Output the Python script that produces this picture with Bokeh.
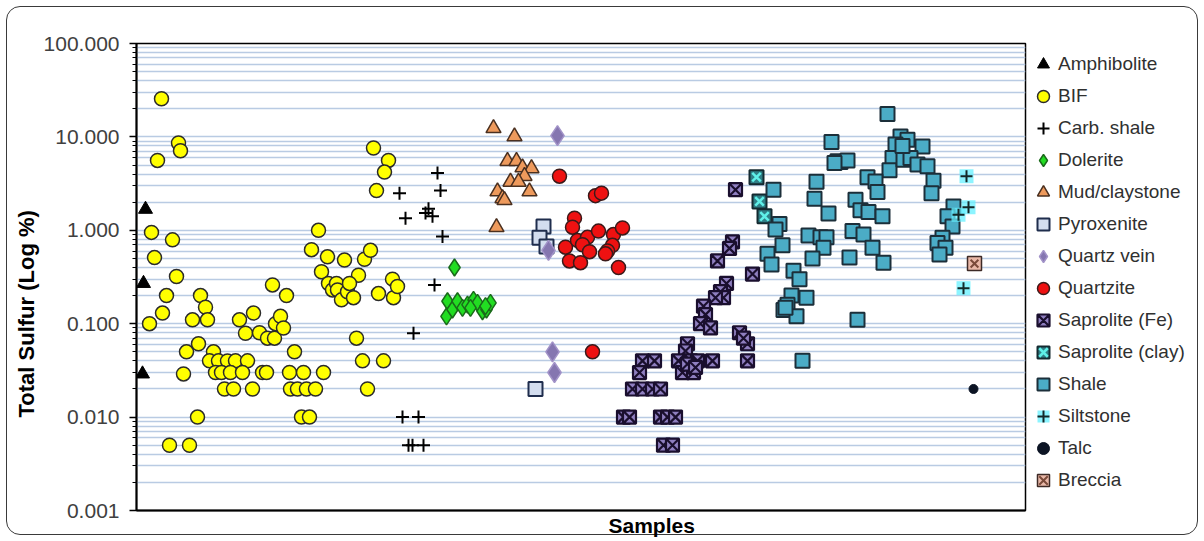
from bokeh.plotting import figure
from bokeh.layouts import row
from bokeh.models import (Range1d, FixedTicker, PrintfTickFormatter, Legend, LegendItem, Title)
from bokeh.embed import file_html
from bokeh.resources import INLINE

# ---------------- data (sample position, total sulfur %) ----------------
amph_x = [9, 7, 6]
amph_y = [1.68, 0.27, 0.029]

bif_x = [25, 21, 42, 44, 15, 36, 18, 40, 13, 26, 30, 50, 47, 33, 53, 61, 62, 56, 64, 69, 71, 77,
         73, 82, 91, 99, 111, 79, 85, 94, 106, 88, 97, 116, 103, 109, 117, 123, 136, 126, 130,
         131, 138, 139, 144, 147, 150, 158, 153, 167, 187, 154, 161, 170, 179, 165, 173,
         237, 252, 248, 240, 182, 175, 191, 208, 228, 234, 185, 222, 192, 196, 200, 201, 205,
         211, 213, 217, 220, 226, 231, 242, 247, 256, 257, 261]
bif_y = [25.6, 5.6, 8.6, 7.1, 0.95, 0.79, 0.51, 0.32, 0.10, 0.13, 0.20, 0.05, 0.029, 0.005, 0.005,
         0.010, 0.061, 0.11, 0.20, 0.15, 0.11, 0.05, 0.04, 0.04, 0.04, 0.04, 0.04, 0.03, 0.03,
         0.03, 0.03, 0.02, 0.02, 0.02, 0.11, 0.079, 0.13, 0.08, 0.26, 0.03, 0.03, 0.07, 0.07,
         0.10, 0.12, 0.09, 0.20, 0.05, 0.03, 0.03, 0.03, 0.02, 0.02, 0.02, 0.02, 0.01, 0.01,
         7.6, 5.6, 4.2, 2.66, 1.0, 0.62, 0.52, 0.48, 0.49, 0.61, 0.36, 0.33, 0.27, 0.23, 0.27,
         0.23, 0.18, 0.22, 0.27, 0.19, 0.07, 0.04, 0.02, 0.21, 0.04, 0.30, 0.19, 0.25]

carb_x = [301, 304, 263, 292, 289, 296, 269, 306, 298, 277, 266, 282, 272, 276, 287]
carb_y = [4.1, 2.66, 2.5, 1.7, 1.53, 1.41, 1.35, 0.86, 0.26, 0.079, 0.01, 0.01, 0.005, 0.005, 0.005]

dol_x = [318, 311, 310, 316, 321, 326, 331, 337, 341, 346, 350, 354, 349, 334]
dol_y = [0.40, 0.174, 0.12, 0.142, 0.174, 0.148, 0.16, 0.18, 0.167, 0.136, 0.142, 0.167, 0.154, 0.148]

mud_x = [357, 378, 371, 380, 386, 395, 388, 374, 382, 393, 361, 366, 368, 360]
mud_y = [12.4, 10.1, 5.5, 5.5, 4.7, 4.6, 3.8, 3.3, 3.3, 2.6, 2.6, 2.2, 2.1, 1.08]

pyx_x = [407, 403, 410, 399]
pyx_y = [1.1, 0.83, 0.67, 0.02]

qv_x = [421, 412, 416, 418]
qv_y = [10.3, 0.61, 0.05, 0.03]

qtz_x = [423, 459, 465, 438, 436, 429, 441, 451, 462, 446, 453, 433, 444, 477, 486, 476, 471, 469,
         482, 456]
qtz_y = [3.8, 2.35, 2.5, 1.35, 1.08, 0.66, 0.78, 0.84, 0.98, 0.70, 0.59, 0.47, 0.45, 0.90, 1.06,
         0.69, 0.60, 0.56, 0.40, 0.05]

sapfe_x = [599, 596, 593, 581, 616, 590, 584, 587, 579, 567, 569, 564, 574, 603, 611, 607, 551,
           549, 506, 518, 542, 554, 561, 576, 611, 503, 546, 557, 496, 506, 516, 524, 487, 493,
           524, 531, 539, 527, 536, 551, 559]
sapfe_y = [2.72, 0.75, 0.64, 0.47, 0.34, 0.27, 0.22, 0.19, 0.19, 0.154, 0.125, 0.10, 0.09, 0.08,
           0.061, 0.07, 0.061, 0.051, 0.04, 0.04, 0.04, 0.04, 0.04, 0.04, 0.04, 0.03, 0.03, 0.03,
           0.02, 0.02, 0.02, 0.02, 0.01, 0.01, 0.01, 0.01, 0.01, 0.005, 0.005, 0.037, 0.034]

sapcl_x = [620, 623, 628]
sapcl_y = [3.7, 2.04, 1.41]

shale_x = [751, 695, 701, 704, 711, 698, 764, 771, 762, 759, 786, 756, 753, 767, 774, 781, 791,
           797, 795, 731, 739, 741, 680, 678, 692, 719, 724, 732, 746, 716, 727, 736, 747, 713,
           672, 684, 690, 687, 676, 637, 643, 639, 646, 631, 635, 657, 663, 655, 670, 651, 647,
           660, 721, 666, 817, 811, 816, 806, 801, 809, 803, 649, 766]
shale_y = [17.6, 8.8, 5.5, 5.4, 5.6, 5.25, 10.1, 9.3, 7.5, 8.3, 7.9, 5.95, 4.4, 5.7, 5.95, 5.05,
           4.85, 3.4, 2.5, 3.7, 3.34, 2.57, 3.3, 2.18, 1.51, 2.13, 1.64, 1.57, 1.41, 0.98, 0.90,
           0.65, 0.45, 0.51, 0.88, 0.84, 0.84, 0.65, 0.50, 2.72, 1.17, 1.02, 0.69, 0.56, 0.43,
           0.37, 0.30, 0.20, 0.19, 0.16, 0.14, 0.12, 0.11, 0.04, 1.8, 1.41, 1.10, 0.83, 0.73,
           0.65, 0.55, 0.148, 8.0]

silt_x = [830, 832, 822, 827]
silt_y = [3.8, 1.76, 1.47, 0.24]

talc_x = [837]
talc_y = [0.02]

brec_x = [838]
brec_y = [0.44]

y_major = [0.001, 0.01, 0.1, 1, 10, 100]
y_minor = [m * 10.0 ** k for k in range(-3, 2) for m in range(2, 10)]

FONT = "Liberation Sans"

# ---------------- styles ----------------
series = [
    ("Amphibolite", amph_x, amph_y, [dict(marker="triangle", size=14, fill_color="black", line_color="black")]),
    ("BIF", bif_x, bif_y, [dict(marker="circle", size=14, fill_color="#ffff00", line_color="#2b2b2b", line_width=1.5)]),
    ("Carb. shale", carb_x, carb_y, [dict(marker="cross", size=13, line_color="black", line_width=2)]),
    ("Dolerite", dol_x, dol_y, [dict(marker="diamond", size=17, fill_color="#22dd22", line_color="#1a6a1a", line_width=1.5)]),
    ("Mud/claystone", mud_x, mud_y, [dict(marker="triangle", size=15, fill_color="#ee9a5c", line_color="#4a3020", line_width=1.5)]),
    ("Pyroxenite", pyx_x, pyx_y, [dict(marker="square", size=14, fill_color="#d3ddef", line_color="#1f2d4d", line_width=2)]),
    ("Quartz vein", qv_x, qv_y, [dict(marker="diamond", size=20, fill_color="#8576b0", line_color="#a293c8", line_width=1.5)]),
    ("Quartzite", qtz_x, qtz_y, [dict(marker="circle", size=14, fill_color="#ee1111", line_color="#3a1a1a", line_width=1.5)]),
    ("Saprolite (Fe)", sapfe_x, sapfe_y, [dict(marker="square_x", size=13, fill_color="#8f7fc0", line_color="#1a0f2e", line_width=2.2)]),
    ("Saprolite (clay)", sapcl_x, sapcl_y, [dict(marker="square", size=14, fill_color="#2f7f86", line_color="#142a30", line_width=2),
                                            dict(marker="x", size=12, line_color="#5ff0e8", line_width=2.5)]),
    ("Shale", shale_x, shale_y, [dict(marker="square", size=14, fill_color="#4bacc6", line_color="#1c2f3a", line_width=2)]),
    ("Siltstone", silt_x, silt_y, [dict(marker="square", size=14, fill_color="#66f0ff", fill_alpha=0.75, line_color=None),
                                   dict(marker="cross", size=12, line_color="#142828", line_width=2)]),
    ("Talc", talc_x, talc_y, [dict(marker="circle", size=9, fill_color="#0c1424", line_color="#0c1424")]),
    ("Breccia", brec_x, brec_y, [dict(marker="square", size=14, fill_color="#e9b8a8", line_color="#3d2a26", line_width=1.5),
                                 dict(marker="x", size=11, line_color="#7a4a3a", line_width=2)]),
]

# ---------------- main plot ----------------
p = figure(width=1027, height=541, output_backend="svg", toolbar_location=None,
           y_axis_type="log", x_range=Range1d(0, 889), y_range=Range1d(0.001, 100),
           min_border_left=136, min_border_right=2, min_border_top=43, min_border_bottom=31,
           background_fill_color=None, border_fill_color=None)

p.outline_line_color = "black"
p.outline_line_width = 1.5
p.xgrid.visible = False
p.ygrid.grid_line_color = "#b9cbe3"
p.ygrid.grid_line_width = 1.5
p.ygrid.minor_grid_line_color = "#b9cbe3"
p.ygrid.minor_grid_line_width = 1.5

p.yaxis.ticker = FixedTicker(ticks=y_major, minor_ticks=y_minor)
p.yaxis.formatter = PrintfTickFormatter(format="%.3f")
p.yaxis.axis_line_color = "black"
p.yaxis.axis_line_width = 2
p.yaxis.major_tick_line_color = "black"
p.yaxis.major_tick_line_width = 1.5
p.yaxis.major_tick_out = 7
p.yaxis.major_tick_in = 0
p.yaxis.minor_tick_line_color = "black"
p.yaxis.minor_tick_line_width = 1.2
p.yaxis.minor_tick_out = 4
p.yaxis.minor_tick_in = 0
p.yaxis.major_label_text_font = FONT
p.yaxis.major_label_text_font_size = "21px"
p.yaxis.major_label_text_color = "#404040"
p.yaxis.major_label_standoff = 10

p.xaxis.ticker = FixedTicker(ticks=[])
p.xaxis.axis_line_color = "black"
p.xaxis.axis_line_width = 2
p.xaxis.major_tick_line_color = None
p.xaxis.minor_tick_line_color = None
p.xaxis.major_tick_out = 0
p.xaxis.major_label_standoff = 0
p.xaxis.major_label_text_font_size = "0px"

p.add_layout(Title(text="Total Sulfur (Log %)", align="left", offset=93, standoff=4,
                   text_font=FONT, text_font_style="bold", text_font_size="22px",
                   text_color="black"), "left")
p.add_layout(Title(text="Samples", align="left", offset=472, standoff=3,
                   text_font=FONT, text_font_style="bold", text_font_size="21px",
                   text_color="black"), "below")

# ---------------- legend panel (same data, view window kept empty) ----------------
lg = figure(width=177, height=541, output_backend="svg", toolbar_location=None,
            x_axis_location=None, y_axis_location=None,
            x_range=Range1d(-3, -2), y_range=Range1d(-3, -2),
            min_border_left=0, min_border_right=0, min_border_top=43, min_border_bottom=31,
            background_fill_color=None, border_fill_color=None)
lg.outline_line_color = None
lg.grid.visible = False

items = []
for label, xs, ys, styles in series:
    for st in styles:
        p.scatter(xs, ys, **st)
    rends = [lg.scatter(xs, ys, **st) for st in styles]
    items.append(LegendItem(label=label, renderers=rends))

legend = Legend(items=items, location=(1, 15), margin=0, padding=0, spacing=2,
                glyph_width=30, glyph_height=30, label_standoff=0,
                label_text_font=FONT, label_text_font_size="19px", label_text_color="#303030",
                border_line_color=None, background_fill_alpha=0)
lg.add_layout(legend, "center")

layout = row(p, lg, styles={"outline": "1.8px solid #3a3a3a", "outline-offset": "-7px",
                            "border-radius": "20px"})

open("out.html", "w").write(file_html(layout, INLINE))
